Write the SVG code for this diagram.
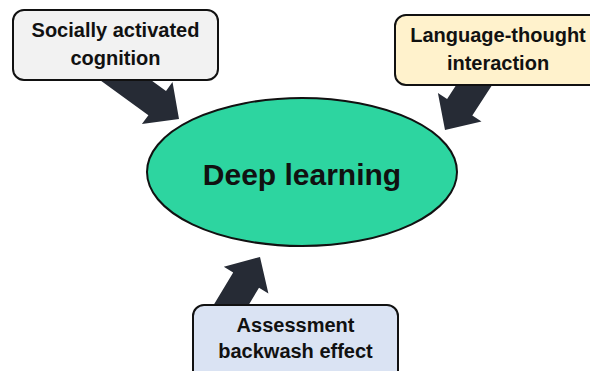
<svg xmlns="http://www.w3.org/2000/svg" width="590" height="371" viewBox="0 0 590 371">
<style>
.arrow{fill:#262b35;stroke:none}
.box{stroke:#111;stroke-width:2}
.lbl{font-family:"Liberation Sans",Arial,sans-serif;font-weight:bold;font-size:20px;fill:#111;text-anchor:middle}
.main{font-family:"Liberation Sans",Arial,sans-serif;font-weight:bold;font-size:30px;fill:#111;text-anchor:middle}
</style>
<rect width="590" height="371" fill="#fff"/>
<g id="connectors">
<polygon class="arrow" points="83.7,68.2 148.4,115.2 141.9,124.1 179,119 172.5,82.1 166,91 101.3,44"/>
<polygon class="arrow" points="505,65.2 472.3,115.5 481.5,121.5 445,130 437.9,93.1 447.1,99.1 479.8,48.8"/>
<polygon class="arrow" points="228.1,339.2 259,287.8 268.4,293.5 260,257 223.8,266.7 233.2,272.4 202.3,323.8"/>
</g>
<g id="deep-learning">
<ellipse cx="302" cy="172" rx="155" ry="74" fill="#2dd5a0" stroke="#111" stroke-width="2"/>
<text class="main" x="302" y="185">Deep learning</text>
</g>
<g id="social">
<rect class="box" x="13" y="10" width="205" height="70" rx="11" fill="#f2f2f2"/>
<text class="lbl" x="115.5" y="37">Socially activated</text>
<text class="lbl" x="115.5" y="65">cognition</text>
</g>
<g id="language">
<rect class="box" x="395" y="15" width="210" height="70" rx="11" fill="#fff2cc"/>
<text class="lbl" x="498" y="42">Language-thought</text>
<text class="lbl" x="498" y="70">interaction</text>
</g>
<g id="assessment">
<rect class="box" x="193" y="305" width="205" height="80" rx="11" fill="#dae3f3"/>
<text class="lbl" x="295.5" y="332">Assessment</text>
<text class="lbl" x="295.5" y="358">backwash effect</text>
</g>
</svg>
